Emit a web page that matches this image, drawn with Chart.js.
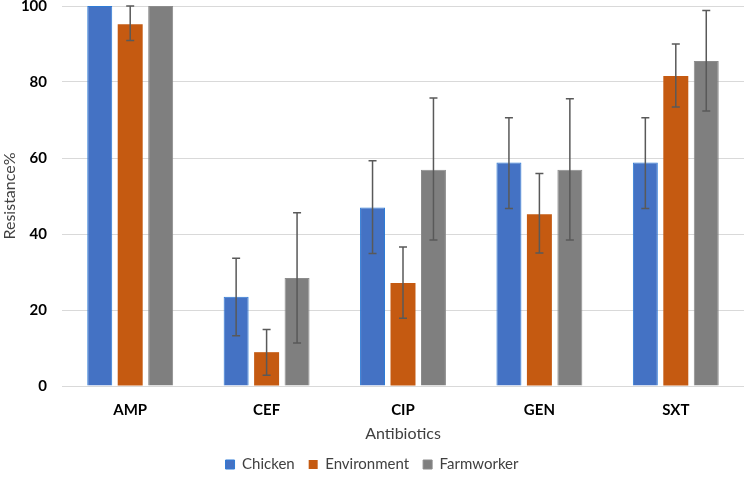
<!DOCTYPE html>
<html>
<head>
<meta charset="utf-8">
<script src="https://cdn.jsdelivr.net/npm/chart.js@4.4.1/dist/chart.umd.min.js"></script>
<style>
  html, body { margin: 0; padding: 0; background: #fff; }
  #wrap { width: 744px; height: 493px; position: relative; }
</style>
</head>
<body>
<div id="wrap"><canvas id="chart"></canvas></div>
<script>
// antibiotics on the x axis
var categories = ["AMP", "CEF", "CIP", "GEN", "SXT"];
var yTicks = [0, 20, 40, 60, 80, 100];

// resistance %
var chicken     = [100, 23.5, 47.0, 58.8, 58.8];
var environment = [95.2, 8.9, 27.1, 45.2, 81.6];
var farmworker  = [100, 28.4, 56.9, 56.9, 85.5];

// error bar ends (low / high)
var chickenLow  = [100, 13.2, 34.9, 46.7, 46.7];
var chickenHigh = [100, 33.6, 59.3, 70.6, 70.6];
var envLow      = [90.9, 2.8, 17.8, 35.0, 73.4];
var envHigh     = [100, 14.9, 36.6, 55.9, 90.0];
var farmLow     = [100, 11.3, 38.4, 38.4, 72.4];
var farmHigh    = [100, 45.6, 75.8, 75.6, 98.8];

var FONT = "Lato, 'Open Sans', sans-serif";

// draws the whiskers on top of the bars, using the chart's own scale
var errorBars = {
    id: "errorBars",
    afterDatasetsDraw: function (chart) {
        var ctx = chart.ctx;
        var y = chart.scales.y;
        chart.data.datasets.forEach(function (ds, k) {
            var meta = chart.getDatasetMeta(k);
            if (!ds.errLow) return;
            meta.data.forEach(function (bar, i) {
                var lo = ds.errLow[i], hi = ds.errHigh[i];
                if (lo === hi) return;
                var yl = y.getPixelForValue(lo), yh = y.getPixelForValue(hi);
                ctx.save();
                ctx.strokeStyle = "#595959";
                ctx.lineWidth = 1.5;
                ctx.beginPath();
                ctx.moveTo(bar.x, yl); ctx.lineTo(bar.x, yh);
                ctx.moveTo(bar.x - 4, yl); ctx.lineTo(bar.x + 4, yl);
                ctx.moveTo(bar.x - 4, yh); ctx.lineTo(bar.x + 4, yh);
                ctx.stroke();
                ctx.restore();
            });
        });
    }
};

new Chart(document.getElementById("chart"), {
    type: "bar",
    data: {
        labels: categories,
        datasets: [
            { label: "Chicken", data: chicken, errLow: chickenLow, errHigh: chickenHigh,
              backgroundColor: "#4472C4", borderColor: "#2E7BD6", borderWidth: 1 },
            { label: "Environment", data: environment, errLow: envLow, errHigh: envHigh,
              backgroundColor: "#C55A11", borderColor: "#C55A11", borderWidth: 0 },
            { label: "Farmworker", data: farmworker, errLow: farmLow, errHigh: farmHigh,
              backgroundColor: "#7F7F7F", borderColor: "#8C8C8C", borderWidth: 1 }
        ]
    },
    options: {
        responsive: true,
        maintainAspectRatio: false,
        animation: false,
        categoryPercentage: 0.67,
        barPercentage: 0.82,
        layout: { padding: { top: 6, right: 0, bottom: 11, left: 0 } },
        plugins: {
            legend: {
                position: "bottom",
                labels: {
                    font: { family: FONT, size: 15 },
                    color: "#404040",
                    boxWidth: 9, boxHeight: 9,
                    padding: 14
                }
            },
            tooltip: { enabled: false }
        },
        scales: {
            x: {
                grid: { display: false, drawTicks: true },
                border: { color: "#D9D9D9" },
                afterFit: function (s) { s.height = 57; },
                ticks: { font: { family: FONT, size: 15, weight: "bold" }, color: "#000", padding: 7 },
                title: { display: true, text: "Antibiotics", font: { family: FONT, size: 16 }, color: "#404040", padding: { top: 4, bottom: 0 } }
            },
            y: {
                min: 0, max: 100,
                afterBuildTicks: function (s) { s.ticks = yTicks.map(function (v) { return { value: v }; }); },
                afterFit: function (s) { s.width = 62; s.paddingTop = 0; s.paddingBottom = 0; },
                grid: { color: "#D9D9D9", drawTicks: false },
                border: { display: false },
                ticks: { font: { family: FONT, size: 15, weight: "bold" }, color: "#000", padding: 15 },
                title: { display: true, text: "Resistance%", font: { family: FONT, size: 16 }, color: "#404040", padding: 0 }
            }
        }
    },
    plugins: [errorBars]
});
</script>
</body>
</html>
